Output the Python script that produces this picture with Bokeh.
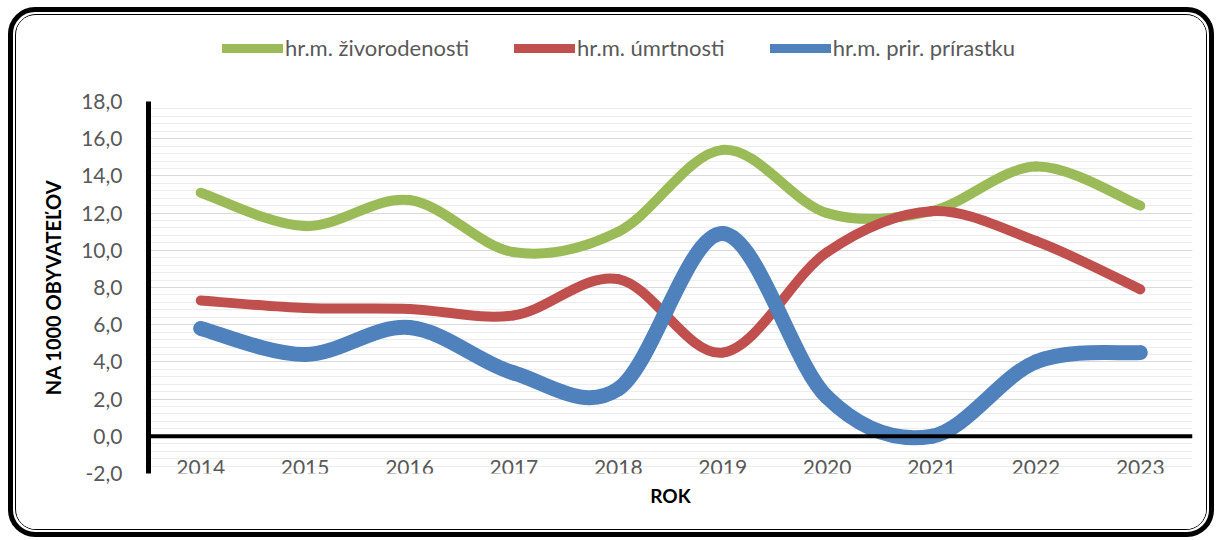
from bokeh.plotting import figure
from bokeh.models import (Range1d, FixedTicker, CustomJSTickFormatter, Span, Legend,
                          LegendItem, ColumnDataSource, Column)
from bokeh.core.properties import value
from bokeh.embed import file_html
from bokeh.resources import INLINE

# ---- data ----
years = [2014, 2015, 2016, 2017, 2018, 2019, 2020, 2021, 2022, 2023]
zivorodenost = [13.1, 11.3, 12.7, 9.9, 11.0, 15.4, 12.0, 12.1, 14.5, 12.4]
umrtnost = [7.3, 6.9, 6.85, 6.5, 8.45, 4.5, 9.9, 12.1, 10.5, 7.9]
prirastok = [5.8, 4.4, 5.85, 3.4, 2.55, 10.9, 2.1, 0.0, 4.0, 4.5]
series_names = ["hr.m. živorodenosti", "hr.m. úmrtnosti", "hr.m. prir. prírastku"]
series_colors = ["#9BBB59", "#C0504D", "#4F81BD"]
series_widths = [10, 10, 15]
y_ticks = [-2, 0, 2, 4, 6, 8, 10, 12, 14, 16, 18]
y_minor = [round(-2 + 0.4 * i, 1) for i in range(51)]

FONT = "Lato"
GRAY = "#595959"
W = 1190
LEG_H = 70
MAIN_H = 514 - LEG_H


def smooth_segments(xs, ys):
    """Bezier control points (Excel-like smoothing) for each segment."""
    n = len(xs)
    d = dict(x0=[], y0=[], x1=[], y1=[], cx0=[], cy0=[], cx1=[], cy1=[])
    for i in range(n - 1):
        a = i - 1 if i > 0 else i
        b = i + 2 if i + 2 < n else i + 1
        d["x0"].append(xs[i]); d["y0"].append(ys[i])
        d["x1"].append(xs[i + 1]); d["y1"].append(ys[i + 1])
        d["cx0"].append(xs[i] + (xs[i + 1] - xs[a]) / 6)
        d["cy0"].append(ys[i] + (ys[i + 1] - ys[a]) / 6)
        d["cx1"].append(xs[i + 1] - (xs[b] - xs[i]) / 6)
        d["cy1"].append(ys[i + 1] - (ys[b] - ys[i]) / 6)
    return d


p = figure(width=W, height=MAIN_H, output_backend="svg", toolbar_location=None,
           x_range=Range1d(2013.5, 2023.5), y_range=Range1d(-2, 18),
           min_border_left=132, min_border_right=14, min_border_top=86 - LEG_H,
           min_border_bottom=56)
p.background_fill_color = "white"
p.border_fill_color = "white"
p.outline_line_color = None

# grid
p.xgrid.visible = False
p.yaxis.ticker = FixedTicker(ticks=y_ticks, minor_ticks=y_minor)
p.ygrid.grid_line_color = "#d9d9d9"
p.ygrid.grid_line_width = 1
p.ygrid.minor_grid_line_color = "#ededed"
p.ygrid.minor_grid_line_width = 1

# y axis
yax = p.yaxis[0]
yax.formatter = CustomJSTickFormatter(code="return tick.toFixed(1).replace('.', ',');")
yax.axis_line_color = "black"
yax.axis_line_width = 5
yax.major_tick_line_color = None
yax.minor_tick_line_color = None
yax.major_label_text_font = FONT
yax.major_label_text_font_size = "21px"
yax.major_label_text_color = GRAY
yax.major_label_standoff = 20
yax.axis_label = "NA 1000 OBYVATEĽOV"
yax.axis_label_text_font = FONT
yax.axis_label_text_font_style = "bold"
yax.axis_label_text_font_size = "20px"
yax.axis_label_text_color = "black"
yax.axis_label_standoff = 13

# x axis (only the title; the year labels sit inside the plot)
xax = p.xaxis[0]
xax.ticker = FixedTicker(ticks=[])
xax.axis_line_color = None
xax.major_tick_line_color = None
xax.minor_tick_line_color = None
xax.axis_label = "ROK"
xax.axis_label_text_font = FONT
xax.axis_label_text_font_style = "bold"
xax.axis_label_text_font_size = "19px"
xax.axis_label_text_color = "black"
xax.axis_label_standoff = 10

p.text(x=years, y=-1.68, text=[str(y) for y in years], text_font=value(FONT),
       text_font_size="21px", text_color=GRAY, text_align="center",
       text_baseline="middle")

# zero line
p.add_layout(Span(location=0, dimension="width", line_color="black", line_width=4))

# series
all_series = [zivorodenost, umrtnost, prirastok]
for vals, color, w in zip(all_series, series_colors, series_widths):
    src = ColumnDataSource(smooth_segments(years, vals))
    p.bezier(x0="x0", y0="y0", x1="x1", y1="y1", cx0="cx0", cy0="cy0",
             cx1="cx1", cy1="cy1", source=src, line_color=color, line_width=w,
             line_cap="round")

# legend strip (own small figure above the chart; its frame aligns with the chart's)
lf = figure(width=W, height=LEG_H, output_backend="svg", toolbar_location=None,
            x_range=Range1d(0, 1), y_range=Range1d(0, 1),
            x_axis_location=None, y_axis_location=None,
            min_border=0, min_border_left=0, min_border_right=0,
            min_border_top=0, min_border_bottom=0)
lf.grid.visible = False
lf.outline_line_color = None
lf.background_fill_color = "white"
lf.border_fill_color = "white"
legend_items = []
for name, color, vals in zip(series_names, series_colors, all_series):
    # series placed outside this strip's view: only its legend swatch shows
    r = lf.line(x=years, y=vals, line_color=color, line_width=9, line_cap="round")
    legend_items.append(LegendItem(label=name, renderers=[r]))
legend = Legend(items=legend_items, orientation="horizontal", location=(74, 24),
                padding=0, margin=0, spacing=45, glyph_width=61, glyph_height=26,
                label_height=26, label_standoff=2, border_line_color=None,
                background_fill_alpha=0, label_text_font=FONT,
                label_text_font_size="22px", label_text_color=GRAY)
lf.add_layout(legend, "center")

# rounded double frame around the chart (CSS borders of wrappers)
inner = Column(children=[lf, p], spacing=0,
               styles={"border": "1.5px solid black",
                       "border-radius": "21px",
                       "overflow": "hidden",
                       "background-color": "white"})
outer = Column(children=[inner], styles={"border": "5px solid black",
                                         "border-radius": "27px",
                                         "padding": "2px",
                                         "margin": "7px 0 0 8px",
                                         "background-color": "white"})

open("out.html", "w").write(file_html(outer, INLINE))
